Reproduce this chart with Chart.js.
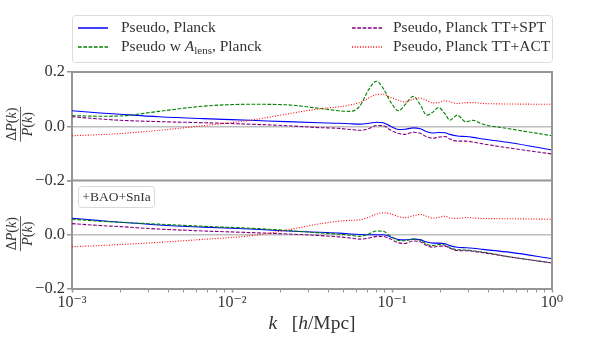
<!DOCTYPE html>
<html>
<head>
<meta charset="UTF-8">
<title>Pseudo P(k) residuals</title>
<script src="https://cdn.jsdelivr.net/npm/chart.js@4.4.1/dist/chart.umd.min.js"></script>
<style>
  html, body { margin: 0; padding: 0; background: #fff; }
</style>
</head>
<body>
<canvas id="myChart" width="600" height="360"></canvas>
<script>
// k in h/Mpc
var kVals = [0.001, 0.0015, 0.002, 0.0035, 0.0066, 0.013, 0.022, 0.035, 0.047, 0.055,
             0.063, 0.072, 0.080, 0.088, 0.098, 0.11, 0.12, 0.136, 0.15, 0.165,
             0.18, 0.195, 0.215, 0.23, 0.256, 0.29, 0.32, 0.37, 0.55, 1.0];

// top panel (CMB only)
var planckTop = [0.057, 0.049, 0.044, 0.035, 0.028, 0.022, 0.017, 0.013, 0.011, 0.009,
                 0.008, 0.011, 0.015, 0.013, 0.000, -0.012, -0.011, -0.006, -0.009, -0.020,
                 -0.025, -0.023, -0.024, -0.030, -0.036, -0.038, -0.041, -0.047, -0.061, -0.087];
var alensTop = [0.039, 0.037, 0.038, 0.055, 0.074, 0.081, 0.079, 0.066, 0.057, 0.055,
                0.075, 0.138, 0.166, 0.140, 0.090, 0.057, 0.078, 0.110, 0.080, 0.041,
                0.052, 0.069, 0.045, 0.022, 0.041, 0.016, 0.022, 0.0075, -0.010, -0.035];
var sptTop = [0.035, 0.027, 0.022, 0.017, 0.013, 0.0075, 0.002, -0.005, -0.008, -0.012,
              -0.015, -0.008, 0.003, 0.002, -0.014, -0.027, -0.030, -0.022, -0.026, -0.039,
              -0.044, -0.040, -0.038, -0.047, -0.055, -0.055, -0.058, -0.065, -0.081, -0.102];
var actTop = [-0.035, -0.031, -0.027, -0.015, 0.002, 0.022, 0.045, 0.064, 0.072, 0.079,
              0.088, 0.105, 0.117, 0.118, 0.106, 0.096, 0.089, 0.100, 0.104, 0.095,
              0.086, 0.087, 0.094, 0.090, 0.084, 0.087, 0.087, 0.084, 0.082, 0.081];

// bottom panel (+BAO+SnIa)
var planckBot = [0.061, 0.052, 0.046, 0.036, 0.028, 0.021, 0.014, 0.009, 0.006, 0.003,
                 0.001, 0.000, 0.000, 0.000, -0.008, -0.018, -0.019, -0.016, -0.018, -0.027,
                 -0.031, -0.031, -0.033, -0.040, -0.046, -0.048, -0.050, -0.054, -0.065, -0.088];
var alensBot = [0.057, 0.050, 0.046, 0.039, 0.031, 0.024, 0.016, 0.007, 0.002, -0.002,
                -0.006, 0.004, 0.014, 0.013, -0.005, -0.021, -0.022, -0.016, -0.020, -0.035,
                -0.040, -0.036, -0.038, -0.048, -0.055, -0.056, -0.059, -0.064, -0.082, -0.104];
var sptBot = [0.041, 0.034, 0.030, 0.021, 0.014, 0.008, 0.003, -0.003, -0.008, -0.012,
              -0.016, -0.012, -0.006, -0.006, -0.016, -0.030, -0.032, -0.023, -0.026, -0.040,
              -0.046, -0.042, -0.042, -0.050, -0.058, -0.059, -0.061, -0.066, -0.082, -0.104];
var actBot = [-0.044, -0.040, -0.036, -0.028, -0.017, -0.004, 0.017, 0.040, 0.050, 0.053,
              0.055, 0.065, 0.076, 0.081, 0.077, 0.067, 0.063, 0.070, 0.075, 0.068,
              0.061, 0.064, 0.068, 0.062, 0.060, 0.064, 0.062, 0.060, 0.059, 0.057];

var seriesNames = ['Pseudo, Planck', 'Pseudo w A_lens, Planck', 'Pseudo, Planck TT+SPT', 'Pseudo, Planck TT+ACT'];
var xMajorTicks = [0.001, 0.01, 0.1, 1];
var yTickVals = [-0.2, 0, 0.2];

var spineColor = '#969696';
var zeroColor = '#bdbdbd';
var textColor = '#333333';
var serif = '"Liberation Serif", "DejaVu Serif", serif';
var styles = [
  { color: '#0000ff', dash: [] },
  { color: '#008000', dash: [3.7, 1.6] },
  { color: '#800080', dash: [3.7, 1.6] },
  { color: '#ff0000', dash: [1, 1.65] }
];

function pts(arr) {
  return kVals.map(function (k, i) { return { x: k, y: arr[i] }; });
}

function makeSet(i, arr, axis) {
  return {
    label: seriesNames[i],
    data: pts(arr),
    yAxisID: axis,
    borderColor: styles[i].color,
    borderDash: styles[i].dash,
    borderWidth: 1.1,
    pointRadius: 0,
    fill: false,
    cubicInterpolationMode: 'monotone',
    order: 4 - i
  };
}

function isPow10(v) {
  var l = Math.log10(v);
  return Math.abs(l - Math.round(l)) < 1e-9;
}

var supMap = { '-': '\u207B', '0': '\u2070', '1': '\u00B9', '2': '\u00B2', '3': '\u00B3' };
function powLabel(v) {
  var e = String(Math.round(Math.log10(v)));
  return '10' + e.split('').map(function (c) { return supMap[c]; }).join('');
}

function buildXTicks() {
  var t = [];
  xMajorTicks.forEach(function (d, i) {
    t.push({ value: d, major: true });
    if (i < xMajorTicks.length - 1) {
      for (var m = 2; m <= 9; m++) t.push({ value: d * m, major: false });
    }
  });
  return t;
}

function yLabel(v) {
  if (Math.abs(v) < 1e-9) return '0.0';
  return v > 0 ? v.toFixed(1) : '\u2212' + (-v).toFixed(1);
}

function yAxis(hideTop) {
  return {
    type: 'linear',
    position: 'left',
    stack: 'panels',
    stackWeight: 1,
    min: -0.2,
    max: 0.2,
    afterBuildTicks: function (s) { s.ticks = yTickVals.map(function (v) { return { value: v }; }); },
    afterFit: function (s) { s.width = 72; },
    border: { color: spineColor, width: 2 },
    grid: {
      color: function (c) { return c.tick && Math.abs(c.tick.value) < 1e-9 ? zeroColor : 'rgba(0,0,0,0)'; },
      lineWidth: 1.5,
      tickColor: spineColor,
      tickWidth: 1.5,
      tickLength: 5
    },
    ticks: {
      color: textColor,
      padding: 2,
      font: { family: serif, size: 16.5 },
      callback: function (v) { return (hideTop && v > 0.1) ? '' : yLabel(v); }
    }
  };
}

// text made of runs: [text, font, dy]
function drawRuns(ctx, runs, x, y, align) {
  var total = 0;
  runs.forEach(function (r) { ctx.font = r[1]; total += ctx.measureText(r[0]).width; });
  var cx = align === 'center' ? x - total / 2 : x;
  runs.forEach(function (r) {
    ctx.font = r[1];
    ctx.fillText(r[0], cx, y + (r[2] || 0));
    cx += ctx.measureText(r[0]).width;
  });
  return total;
}

function fnt(size, style) { return (style ? style + ' ' : '') + size + 'px ' + serif; }

function roundRect(ctx, x, y, w, h, r) {
  ctx.beginPath();
  ctx.moveTo(x + r, y);
  ctx.arcTo(x + w, y, x + w, y + h, r);
  ctx.arcTo(x + w, y + h, x, y + h, r);
  ctx.arcTo(x, y + h, x, y, r);
  ctx.arcTo(x, y, x + w, y, r);
  ctx.closePath();
}

function drawFrac(ctx, cx, cy) {
  ctx.save();
  ctx.translate(cx, cy);
  ctx.rotate(-Math.PI / 2);
  ctx.fillStyle = textColor;
  ctx.textBaseline = 'middle';
  var num = [['\u0394', fnt(14)], ['P', fnt(14, 'italic')], ['(', fnt(14)], ['k', fnt(14, 'italic')], [')', fnt(14)]];
  var den = [['P', fnt(14, 'italic')], ['(', fnt(14)], ['k', fnt(14, 'italic')], [')', fnt(14)]];
  var w = drawRuns(ctx, num, 0, -8, 'center');
  drawRuns(ctx, den, 0, 8.5, 'center');
  ctx.strokeStyle = textColor;
  ctx.lineWidth = 0.8;
  ctx.beginPath();
  ctx.moveTo(-w / 2 - 1, 0.5);
  ctx.lineTo(w / 2 + 1, 0.5);
  ctx.stroke();
  ctx.restore();
}

var decorPlugin = {
  id: 'decor',
  afterDraw: function (chart) {
    var ctx = chart.ctx, a = chart.chartArea;
    var yTop = chart.scales.yTop, yBot = chart.scales.yBot;
    ctx.save();

    // remaining spines: top, right, panel divider
    ctx.strokeStyle = spineColor;
    ctx.lineWidth = 2;
    ctx.beginPath();
    ctx.moveTo(a.left - 1, a.top);
    ctx.lineTo(a.right + 1, a.top);
    ctx.moveTo(a.right, a.top);
    ctx.lineTo(a.right, a.bottom);
    ctx.moveTo(a.left, yTop.bottom);
    ctx.lineTo(a.right, yTop.bottom);
    ctx.stroke();

    // y labels
    drawFrac(ctx, 20, (yTop.top + yTop.bottom) / 2 - 2);
    drawFrac(ctx, 20, (yBot.top + yBot.bottom) / 2 - 1);

    // x label
    ctx.fillStyle = textColor;
    ctx.textBaseline = 'middle';
    drawRuns(ctx, [['k', fnt(19.5, 'italic')], ['   [', fnt(19.5)], ['h', fnt(19.5, 'italic')], ['/Mpc]', fnt(19.5)]],
      (a.left + a.right) / 2, 324, 'center');

    // +BAO+SnIa tag
    roundRect(ctx, 78.5, 186.5, 76, 21, 3);
    ctx.fillStyle = 'rgba(255,255,255,0.8)';
    ctx.fill();
    ctx.strokeStyle = '#d9d9d9';
    ctx.lineWidth = 1;
    ctx.stroke();
    ctx.fillStyle = textColor;
    ctx.textAlign = 'center';
    ctx.font = fnt(13.5);
    ctx.fillText('+BAO+SnIa', 116.5, 197.5);
    ctx.textAlign = 'left';

    // legend box
    roundRect(ctx, 72.5, 15.5, 480, 47, 3);
    ctx.fillStyle = '#ffffff';
    ctx.fill();
    ctx.strokeStyle = '#dcdcdc';
    ctx.lineWidth = 1;
    ctx.stroke();

    var cols = [{ lx: 78, tx: 121 }, { lx: 352, tx: 393 }];
    var rows = [28, 47];
    var ds = chart.data.datasets;
    for (var i = 0; i < 4; i++) {
      var col = cols[Math.floor(i / 2)], y = rows[i % 2];
      ctx.strokeStyle = styles[i].color;
      ctx.setLineDash(styles[i].dash);
      ctx.lineWidth = 1.5;
      ctx.beginPath();
      ctx.moveTo(col.lx, y);
      ctx.lineTo(col.lx + 30, y);
      ctx.stroke();
      ctx.setLineDash([]);
      ctx.fillStyle = textColor;
      var name = ds[i].label;
      if (name.indexOf('A_lens') >= 0) {
        var parts = name.split('A_lens');
        drawRuns(ctx, [[parts[0], fnt(15.5)], ['A', fnt(15.5, 'italic')], ['lens', fnt(11), 4], [parts[1], fnt(15.5)]], col.tx, y, 'left');
      } else {
        drawRuns(ctx, [[name, fnt(15.5)]], col.tx, y, 'left');
      }
    }
    ctx.restore();
  }
};

var ctx = document.getElementById('myChart').getContext('2d');
var chart = new Chart(ctx, {
  type: 'line',
  data: {
    datasets: [
      makeSet(0, planckTop, 'yTop'),
      makeSet(1, alensTop, 'yTop'),
      makeSet(2, sptTop, 'yTop'),
      makeSet(3, actTop, 'yTop'),
      makeSet(0, planckBot, 'yBot'),
      makeSet(1, alensBot, 'yBot'),
      makeSet(2, sptBot, 'yBot'),
      makeSet(3, actBot, 'yBot')
    ]
  },
  options: {
    responsive: false,
    animation: false,
    events: [],
    layout: { padding: { top: 72, right: 48, left: 0, bottom: 0 } },
    plugins: { legend: { display: false }, tooltip: { enabled: false } },
    scales: {
      x: {
        type: 'logarithmic',
        position: 'bottom',
        min: 0.001,
        max: 1,
        afterBuildTicks: function (s) { s.ticks = buildXTicks(); },
        afterFit: function (s) { s.height = 71; },
        border: { color: spineColor, width: 2 },
        grid: {
          drawOnChartArea: false,
          tickColor: spineColor,
          tickLength: 3.5,
          tickWidth: function (c) { return c.tick && isPow10(c.tick.value) ? 1.5 : 1; }
        },
        ticks: {
          autoSkip: false,
          maxRotation: 0,
          padding: 1,
          color: textColor,
          font: { family: serif, size: 16 },
          callback: function (v) { return isPow10(v) ? powLabel(v) : ''; }
        }
      },
      yBot: yAxis(true),
      yTop: yAxis(false)
    }
  },
  plugins: [decorPlugin]
});
</script>
</body>
</html>
